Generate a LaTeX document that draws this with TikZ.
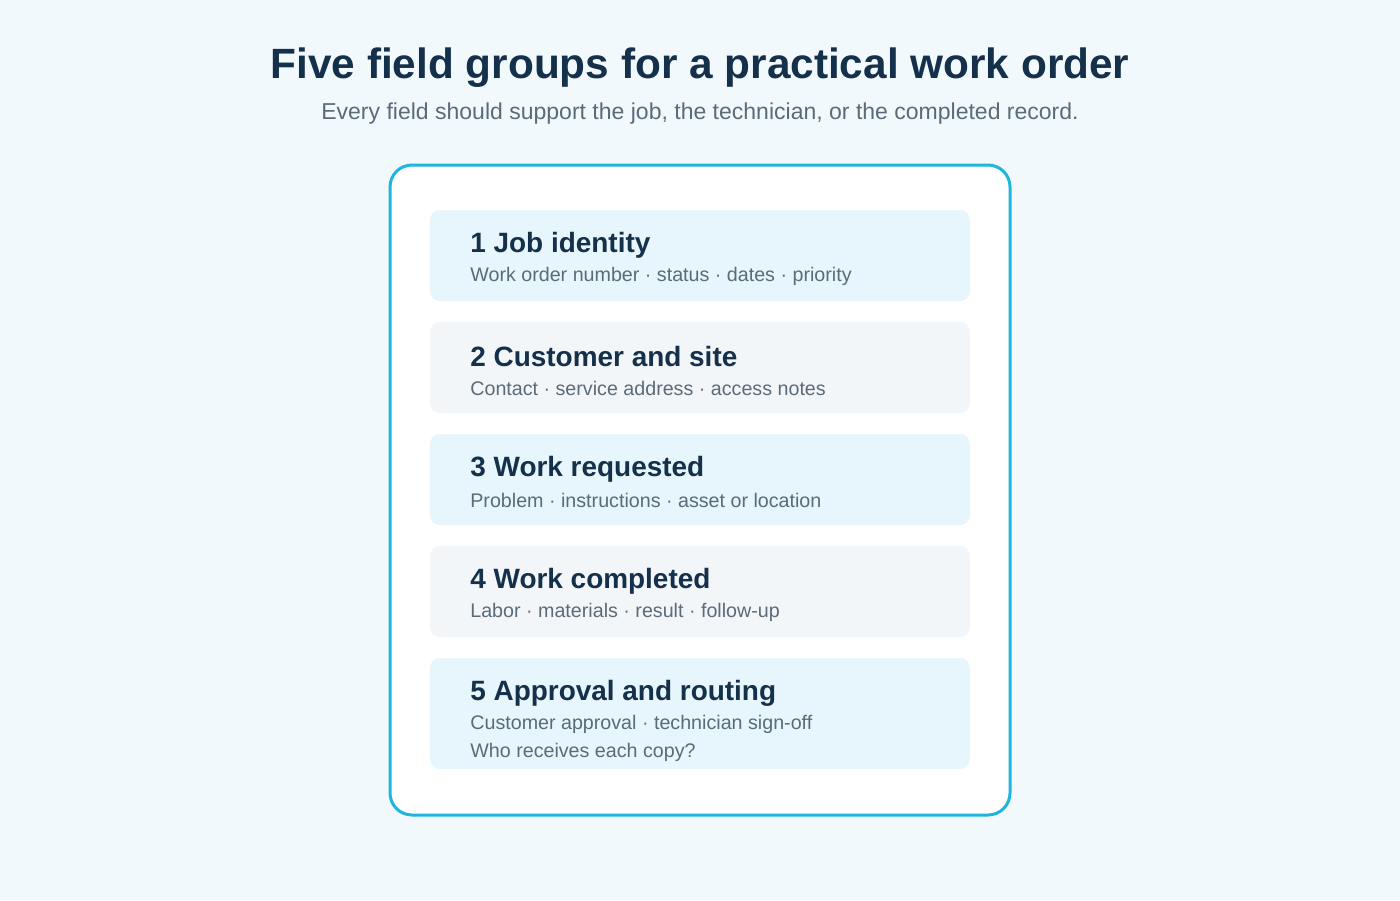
\documentclass[tikz,border=0pt]{standalone}
\usepackage{fontspec}
\setmainfont{Liberation Sans}
\definecolor{wbg}{HTML}{F2F9FD}
\definecolor{wnavy}{HTML}{15304A}
\definecolor{wgray}{HTML}{5A6B7A}
\definecolor{wcyan}{HTML}{1FB5DD}
\definecolor{wblue}{HTML}{E6F6FC}
\definecolor{wpale}{HTML}{F3F6F9}
\tikzset{
	group/.style={rounded corners=10*0.02cm, inner sep=0pt},
	head/.style={anchor=west, inner sep=0pt, text=wnavy, font=\fontsize{15.9}{19}\selectfont\bfseries},
	info/.style={anchor=west, inner sep=0pt, text=wgray, font=\fontsize{11.2}{14}\selectfont}
}
\begin{document}
\begin{tikzpicture}[x=0.02cm, y=-0.02cm]
	\fill[wbg] (0,0) rectangle (1400,900);
	\node[text=wnavy, font=\fontsize{24.1}{28}\selectfont\bfseries] (title) at (700,68) {Five field groups for a practical work order};
	\node[text=wgray, font=\fontsize{13.1}{15}\selectfont] (subtitle) at (700,114) {Every field should support the job, the technician, or the completed record.};
	\draw[wcyan, line width=3*0.02cm, fill=white, rounded corners=22*0.02cm] (390,165) rectangle (1010,815);
	% field groups
	\fill[wblue, group] (430,210) rectangle (970,301);
	\node[head] (h1) at (470,245) {1 Job identity};
	\node[info] (t1) at (470,276) {Work order number · status · dates · priority};
	\fill[wpale, group] (430,322) rectangle (970,413);
	\node[head] (h2) at (470,357) {2 Customer and site};
	\node[info] (t2) at (470,388) {Contact · service address · access notes};
	\fill[wblue, group] (430,434) rectangle (970,525);
	\node[head] (h3) at (470,469) {3 Work requested};
	\node[info] (t3) at (470,500) {Problem · instructions · asset or location};
	\fill[wpale, group] (430,546) rectangle (970,637);
	\node[head] (h4) at (470,581) {4 Work completed};
	\node[info] (t4) at (470,612) {Labor · materials · result · follow-up};
	\fill[wblue, group] (430,658) rectangle (970,769);
	\node[head] (h5) at (470,693) {5 Approval and routing};
	\node[info] (t5) at (470,724) {Customer approval · technician sign-off};
	\node[info] (t6) at (470,752) {Who receives each copy?};
\end{tikzpicture}
\end{document}
